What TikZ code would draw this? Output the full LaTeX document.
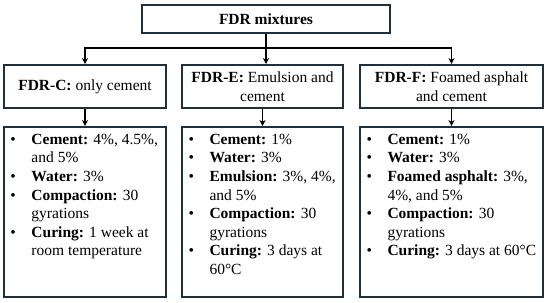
\documentclass[tikz,border=0pt]{standalone}
\usepackage{fontspec}
\setmainfont{Liberation Serif}
\usepackage{xcolor}
\definecolor{cFrame}{HTML}{1E2F3E}
\usepackage{tikz}
\usetikzlibrary{positioning,arrows.meta}
\newcommand{\bul}{\makebox[21bp][l]{\textbullet}}
\newcommand{\cont}{\hspace*{21bp}}
\tikzset{
  node-base/.style={draw=cFrame,line width=2bp,inner xsep=6.5bp,
    font=\fontsize{15.5bp}{18.6bp}\selectfont},
  node-title/.style={node-base,minimum width=248bp,minimum height=28bp,
    font=\fontsize{15.5bp}{18.6bp}\selectfont\bfseries},
  node-type/.style={node-base,minimum height=43bp,align=center},
  node-detail/.style={node-base,inner ysep=7bp},
  arrow/.style={-{Stealth[length=6bp,width=6bp]},line width=1.5bp,draw=black},
}

\begin{document}
\begin{tikzpicture}[x=1bp,y=1bp,node distance=17bp and 14bp]
  \useasboundingbox (0,0) rectangle (550,-302);
  \node[node-title] (mix) at (266,-19) {FDR mixtures};
  \node[node-type,minimum width=162bp] (type-c) at (85,-86.5)
    {\textbf{FDR-C:} only cement};
  \node[node-type,minimum width=161bp,right=14bp of type-c] (type-e)
    {\textbf{FDR-E:} Emulsion and\\cement};
  \node[node-type,minimum width=183bp,right=15bp of type-e] (type-f)
    {\textbf{FDR-F:} Foamed asphalt\\and cement};
  \node[node-detail,below=of type-c] (detail-c) {\parbox[t][156bp][t]{149bp}{\raggedright
    \bul\textbf{Cement:} 4\%, 4.5\%,\\
    \cont and 5\%\\
    \bul\textbf{Water:} 3\%\\
    \bul\textbf{Compaction:} 30\\
    \cont gyrations\\
    \bul\textbf{Curing:} 1 week at\\
    \cont room temperature}};
  \node[node-detail,below=of type-e] (detail-e) {\parbox[t][156bp][t]{148bp}{\raggedright
    \bul\textbf{Cement:} 1\%\\
    \bul\textbf{Water:} 3\%\\
    \bul\textbf{Emulsion:} 3\%, 4\%,\\
    \cont and 5\%\\
    \bul\textbf{Compaction:} 30\\
    \cont gyrations\\
    \bul\textbf{Curing:} 3 days at\\
    \cont 60°C}};
  \node[node-detail,below=of type-f] (detail-f) {\parbox[t][156bp][t]{170bp}{\raggedright
    \bul\textbf{Cement:} 1\%\\
    \bul\textbf{Water:} 3\%\\
    \bul\textbf{Foamed asphalt:} 3\%,\\
    \cont 4\%, and 5\%\\
    \bul\textbf{Compaction:} 30\\
    \cont gyrations\\
    \bul\textbf{Curing:} 3 days at 60°C}};
  \coordinate (split) at ([yshift=-14bp]mix.south);
  \draw[arrow] (mix.south) -- (mix.south |- type-e.north);
  \draw[arrow] (split) -| (type-c.north);
  \draw[arrow] (split) -| (type-f.north);
  \draw[arrow] (type-c) -- (detail-c);
  \draw[arrow] (type-e) -- (detail-e);
  \draw[arrow] (type-f) -- (detail-f);
\end{tikzpicture}
\end{document}
